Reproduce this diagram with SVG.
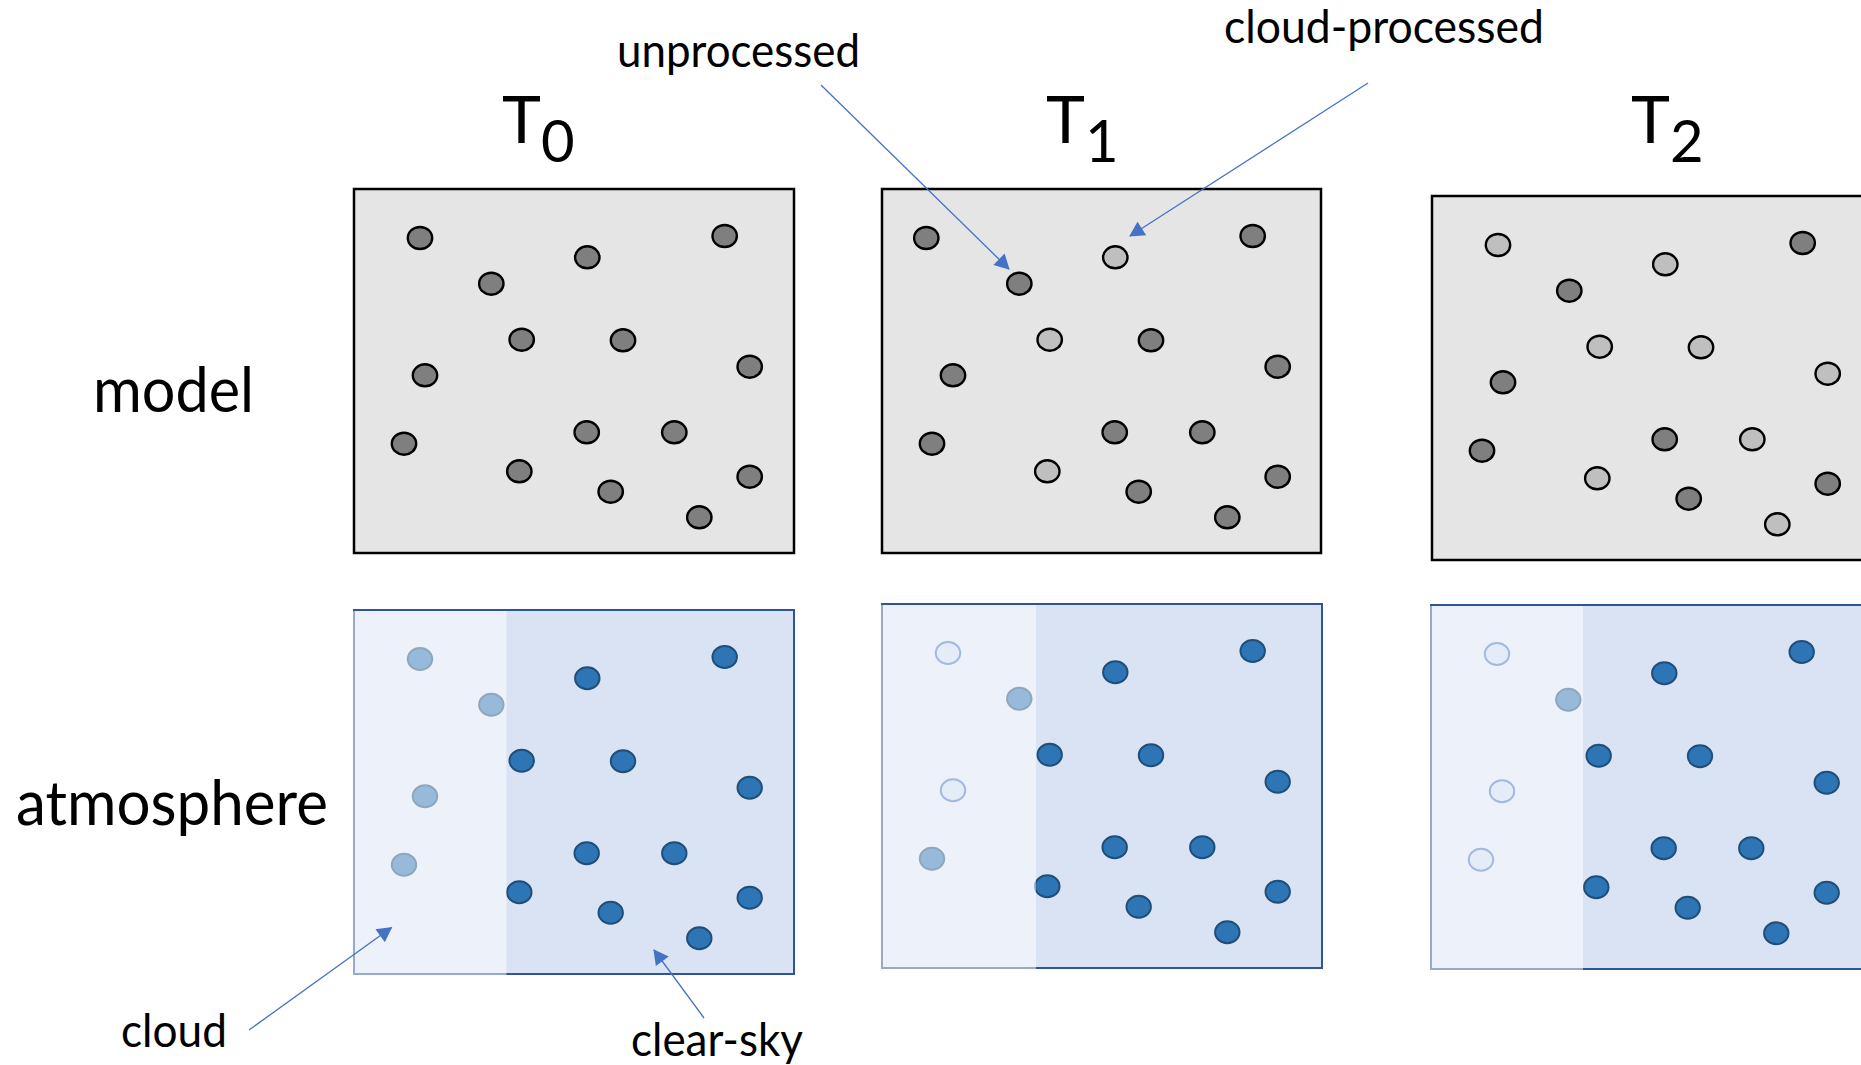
<svg xmlns="http://www.w3.org/2000/svg" width="1861" height="1065" viewBox="0 0 1861 1065">
  <style>
    text { font-family: Lato, "Liberation Sans", sans-serif; fill: #000; }
    .mbox { fill: #e5e5e5; stroke: #000; stroke-width: 2.5; }
    .dk { fill: #7f7f7f; stroke: #000; stroke-width: 2.4; }
    .lt { fill: #bfbfbf; stroke: #000; stroke-width: 2.4; }
    .abox { fill: #dae3f3; stroke: #2f5597; stroke-width: 2; }
    .bl { fill: #2e75b6; stroke: #1f4e79; stroke-width: 2; }
    .ring { fill: #c8d9ef; stroke: #4472c4; stroke-width: 2; }
    .veil { fill: #fff; fill-opacity: 0.5; }
    .lead { stroke: #4472c4; stroke-width: 1.3; fill: none; marker-end: url(#head); }
  </style>
  <defs>
    <marker id="head" markerUnits="userSpaceOnUse" markerWidth="16" markerHeight="16" viewBox="0 0 15 16" refX="14" refY="8" orient="auto">
      <path d="M0,0 L15,8 L0,16 z" fill="#4472c4"/>
    </marker>
  </defs>

  <rect width="1861" height="1065" fill="#fff"/>

  <!-- time step headings -->
  <g id="heading-t0"><text x="502" y="143" font-size="66">T<tspan font-size="58" dy="19">0</tspan></text></g>
  <g id="heading-t1"><text x="1046" y="143" font-size="66">T<tspan font-size="58" dy="19">1</tspan></text></g>
  <g id="heading-t2"><text x="1631" y="143" font-size="66">T<tspan font-size="58" dy="19">2</tspan></text></g>

  <!-- row labels -->
  <g id="label-model"><text x="93" y="412" font-size="62" textLength="161" lengthAdjust="spacingAndGlyphs">model</text></g>
  <g id="label-atmosphere"><text x="16" y="825" font-size="62" textLength="312" lengthAdjust="spacingAndGlyphs">atmosphere</text></g>

  <!-- callout labels -->
  <g id="label-unprocessed"><text x="617" y="67" font-size="47" textLength="243" lengthAdjust="spacingAndGlyphs">unprocessed</text></g>
  <g id="label-cloud-processed"><text x="1224" y="43" font-size="47" textLength="320" lengthAdjust="spacingAndGlyphs">cloud-processed</text></g>
  <g id="label-cloud"><text x="121" y="1047" font-size="47" textLength="106" lengthAdjust="spacingAndGlyphs">cloud</text></g>
  <g id="label-clear-sky"><text x="631" y="1056" font-size="47" textLength="172" lengthAdjust="spacingAndGlyphs">clear-sky</text></g>

  <!-- model panel, T0 -->
  <g id="model-t0" transform="translate(354,189)">
    <rect class="mbox" width="440" height="364"/>
    <ellipse class="dk" cx="66" cy="49" rx="12.2" ry="11"/>
    <ellipse class="dk" cx="233.3" cy="68.3" rx="12.2" ry="11"/>
    <ellipse class="dk" cx="370.7" cy="47" rx="12.2" ry="11"/>
    <ellipse class="dk" cx="137.3" cy="94.7" rx="12.2" ry="11"/>
    <ellipse class="dk" cx="167.7" cy="150.7" rx="12.2" ry="11"/>
    <ellipse class="dk" cx="269" cy="151.3" rx="12.2" ry="11"/>
    <ellipse class="dk" cx="71" cy="186.3" rx="12.2" ry="11"/>
    <ellipse class="dk" cx="395.7" cy="177.7" rx="12.2" ry="11"/>
    <ellipse class="dk" cx="50" cy="254.7" rx="12.2" ry="11"/>
    <ellipse class="dk" cx="232.7" cy="243.3" rx="12.2" ry="11"/>
    <ellipse class="dk" cx="320.3" cy="243.3" rx="12.2" ry="11"/>
    <ellipse class="dk" cx="165.3" cy="282.3" rx="12.2" ry="11"/>
    <ellipse class="dk" cx="256.7" cy="302.7" rx="12.2" ry="11"/>
    <ellipse class="dk" cx="395.7" cy="287.7" rx="12.2" ry="11"/>
    <ellipse class="dk" cx="345.3" cy="328.3" rx="12.2" ry="11"/>
  </g>

  <!-- model panel, T1 -->
  <g id="model-t1" transform="translate(882,189)">
    <rect class="mbox" width="439" height="364"/>
    <ellipse class="dk" cx="44.3" cy="49" rx="12.2" ry="11"/>
    <ellipse class="lt" cx="233.3" cy="68.3" rx="12.2" ry="11"/>
    <ellipse class="dk" cx="370.7" cy="47" rx="12.2" ry="11"/>
    <ellipse class="dk" cx="137.3" cy="94.7" rx="12.2" ry="11"/>
    <ellipse class="lt" cx="167.7" cy="150.7" rx="12.2" ry="11"/>
    <ellipse class="dk" cx="269" cy="151.3" rx="12.2" ry="11"/>
    <ellipse class="dk" cx="71" cy="186.3" rx="12.2" ry="11"/>
    <ellipse class="dk" cx="395.7" cy="177.7" rx="12.2" ry="11"/>
    <ellipse class="dk" cx="50" cy="254.7" rx="12.2" ry="11"/>
    <ellipse class="dk" cx="232.7" cy="243.3" rx="12.2" ry="11"/>
    <ellipse class="dk" cx="320.3" cy="243.3" rx="12.2" ry="11"/>
    <ellipse class="lt" cx="165.3" cy="282.3" rx="12.2" ry="11"/>
    <ellipse class="dk" cx="256.7" cy="302.7" rx="12.2" ry="11"/>
    <ellipse class="dk" cx="395.7" cy="287.7" rx="12.2" ry="11"/>
    <ellipse class="dk" cx="345.3" cy="328.3" rx="12.2" ry="11"/>
  </g>

  <!-- model panel, T2 (runs off the right edge) -->
  <g id="model-t2" transform="translate(1432,196)">
    <rect class="mbox" width="440" height="364"/>
    <ellipse class="lt" cx="66" cy="49" rx="12.2" ry="11"/>
    <ellipse class="lt" cx="233.3" cy="68.3" rx="12.2" ry="11"/>
    <ellipse class="dk" cx="370.7" cy="47" rx="12.2" ry="11"/>
    <ellipse class="dk" cx="137.3" cy="94.7" rx="12.2" ry="11"/>
    <ellipse class="lt" cx="167.7" cy="150.7" rx="12.2" ry="11"/>
    <ellipse class="lt" cx="269" cy="151.3" rx="12.2" ry="11"/>
    <ellipse class="dk" cx="71" cy="186.3" rx="12.2" ry="11"/>
    <ellipse class="lt" cx="395.7" cy="177.7" rx="12.2" ry="11"/>
    <ellipse class="dk" cx="50" cy="254.7" rx="12.2" ry="11"/>
    <ellipse class="dk" cx="232.7" cy="243.3" rx="12.2" ry="11"/>
    <ellipse class="lt" cx="320.3" cy="243.3" rx="12.2" ry="11"/>
    <ellipse class="lt" cx="165.3" cy="282.3" rx="12.2" ry="11"/>
    <ellipse class="dk" cx="256.7" cy="302.7" rx="12.2" ry="11"/>
    <ellipse class="dk" cx="395.7" cy="287.7" rx="12.2" ry="11"/>
    <ellipse class="lt" cx="345.3" cy="328.3" rx="12.2" ry="11"/>
  </g>

  <!-- atmosphere panel, T0: cloudy strip on the left is a half-white veil -->
  <g id="atmosphere-t0" transform="translate(354,610)">
    <rect class="abox" width="440" height="364"/>
    <ellipse class="bl" cx="66" cy="49" rx="12.2" ry="11"/>
    <ellipse class="bl" cx="233.3" cy="68.3" rx="12.2" ry="11"/>
    <ellipse class="bl" cx="370.7" cy="47" rx="12.2" ry="11"/>
    <ellipse class="bl" cx="137.3" cy="94.7" rx="12.2" ry="11"/>
    <ellipse class="bl" cx="167.7" cy="150.7" rx="12.2" ry="11"/>
    <ellipse class="bl" cx="269" cy="151.3" rx="12.2" ry="11"/>
    <ellipse class="bl" cx="71" cy="186.3" rx="12.2" ry="11"/>
    <ellipse class="bl" cx="395.7" cy="177.7" rx="12.2" ry="11"/>
    <ellipse class="bl" cx="50" cy="254.7" rx="12.2" ry="11"/>
    <ellipse class="bl" cx="232.7" cy="243.3" rx="12.2" ry="11"/>
    <ellipse class="bl" cx="320.3" cy="243.3" rx="12.2" ry="11"/>
    <ellipse class="bl" cx="165.3" cy="282.3" rx="12.2" ry="11"/>
    <ellipse class="bl" cx="256.7" cy="302.7" rx="12.2" ry="11"/>
    <ellipse class="bl" cx="395.7" cy="287.7" rx="12.2" ry="11"/>
    <ellipse class="bl" cx="345.3" cy="328.3" rx="12.2" ry="11"/>
    <rect class="veil" x="-2" y="1" width="154.5" height="365"/>
  </g>

  <!-- atmosphere panel, T1 -->
  <g id="atmosphere-t1" transform="translate(882,604)">
    <rect class="abox" width="440" height="364"/>
    <ellipse class="ring" cx="66" cy="49" rx="12.2" ry="11"/>
    <ellipse class="bl" cx="233.3" cy="68.3" rx="12.2" ry="11"/>
    <ellipse class="bl" cx="370.7" cy="47" rx="12.2" ry="11"/>
    <ellipse class="bl" cx="137.3" cy="94.7" rx="12.2" ry="11"/>
    <ellipse class="bl" cx="167.7" cy="150.7" rx="12.2" ry="11"/>
    <ellipse class="bl" cx="269" cy="151.3" rx="12.2" ry="11"/>
    <ellipse class="ring" cx="71" cy="186.3" rx="12.2" ry="11"/>
    <ellipse class="bl" cx="395.7" cy="177.7" rx="12.2" ry="11"/>
    <ellipse class="bl" cx="50" cy="254.7" rx="12.2" ry="11"/>
    <ellipse class="bl" cx="232.7" cy="243.3" rx="12.2" ry="11"/>
    <ellipse class="bl" cx="320.3" cy="243.3" rx="12.2" ry="11"/>
    <ellipse class="bl" cx="165.3" cy="282.3" rx="12.2" ry="11"/>
    <ellipse class="bl" cx="256.7" cy="302.7" rx="12.2" ry="11"/>
    <ellipse class="bl" cx="395.7" cy="287.7" rx="12.2" ry="11"/>
    <ellipse class="bl" cx="345.3" cy="328.3" rx="12.2" ry="11"/>
    <rect class="veil" x="-2" y="1" width="156" height="365"/>
  </g>

  <!-- atmosphere panel, T2 (runs off the right edge) -->
  <g id="atmosphere-t2" transform="translate(1431,605)">
    <rect class="abox" width="440" height="364"/>
    <ellipse class="ring" cx="66" cy="49" rx="12.2" ry="11"/>
    <ellipse class="bl" cx="233.3" cy="68.3" rx="12.2" ry="11"/>
    <ellipse class="bl" cx="370.7" cy="47" rx="12.2" ry="11"/>
    <ellipse class="bl" cx="137.3" cy="94.7" rx="12.2" ry="11"/>
    <ellipse class="bl" cx="167.7" cy="150.7" rx="12.2" ry="11"/>
    <ellipse class="bl" cx="269" cy="151.3" rx="12.2" ry="11"/>
    <ellipse class="ring" cx="71" cy="186.3" rx="12.2" ry="11"/>
    <ellipse class="bl" cx="395.7" cy="177.7" rx="12.2" ry="11"/>
    <ellipse class="ring" cx="50" cy="254.7" rx="12.2" ry="11"/>
    <ellipse class="bl" cx="232.7" cy="243.3" rx="12.2" ry="11"/>
    <ellipse class="bl" cx="320.3" cy="243.3" rx="12.2" ry="11"/>
    <ellipse class="bl" cx="165.3" cy="282.3" rx="12.2" ry="11"/>
    <ellipse class="bl" cx="256.7" cy="302.7" rx="12.2" ry="11"/>
    <ellipse class="bl" cx="395.7" cy="287.7" rx="12.2" ry="11"/>
    <ellipse class="bl" cx="345.3" cy="328.3" rx="12.2" ry="11"/>
    <rect class="veil" x="-2" y="1" width="154" height="365"/>
  </g>

  <!-- leader arrows from the callout labels -->
  <g id="connectors">
    <line class="lead" x1="821" y1="85" x2="1009" y2="269"/>
    <line class="lead" x1="1368" y1="83" x2="1130" y2="236"/>
    <line class="lead" x1="249" y1="1030" x2="391.5" y2="927.5"/>
    <line class="lead" x1="704" y1="1018" x2="654" y2="950"/>
  </g>
</svg>
